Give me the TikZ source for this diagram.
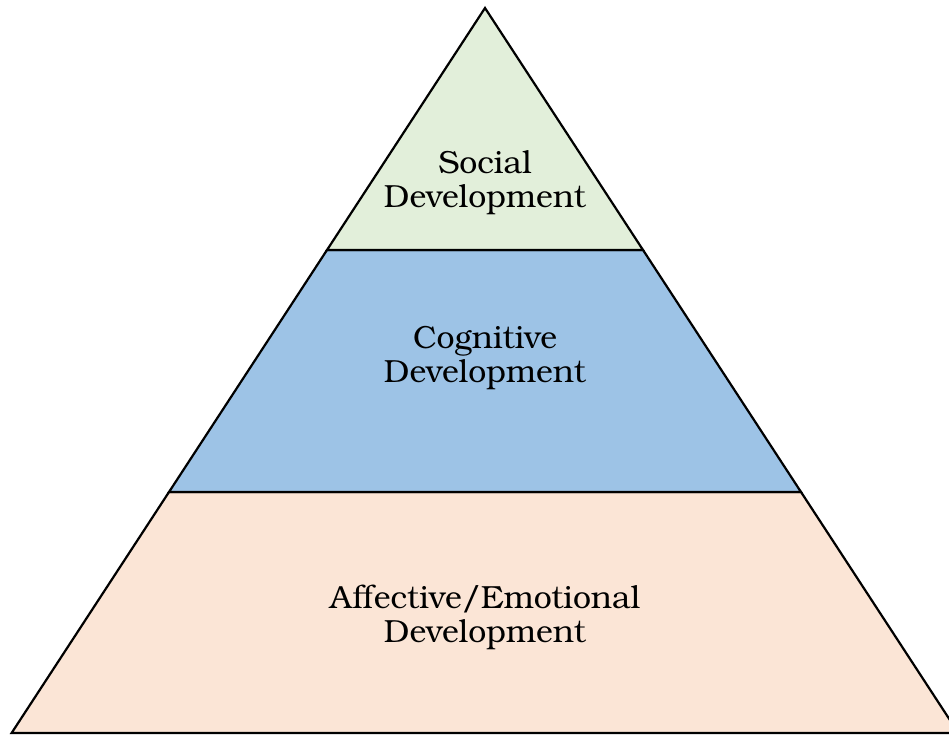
\documentclass[tikz,border=0pt]{standalone}
\usepackage{fontspec}
\setmainfont{TeX Gyre Bonum}
\definecolor{topgreen}{HTML}{E2EFDA}
\definecolor{midblue}{HTML}{9DC3E6}
\definecolor{basepeach}{HTML}{FBE5D6}
\begin{document}
\begin{tikzpicture}[x=1pt,y=1pt,
  layer/.style={draw=black,line width=2.2pt,line join=miter},
  lbl/.style={align=center,font=\fontsize{32}{34}\selectfont,inner sep=0pt}]
\useasboundingbox (0,0) rectangle (949,-735);
\clip (0,0) rectangle (949,-735);
\coordinate (apex) at (485,-8);
\coordinate (l1) at (327,-250);
\coordinate (r1) at (643,-250);
\coordinate (l2) at (169,-492);
\coordinate (r2) at (801,-492);
\coordinate (l3) at (11.6,-733);
\coordinate (r3) at (958.4,-733);
\path[layer,fill=basepeach] (l2) -- (r2) -- (r3) -- (l3) -- cycle;
\path[layer,fill=midblue] (l1) -- (r1) -- (r2) -- (l2) -- cycle;
\path[layer,fill=topgreen] (apex) -- (r1) -- (l1) -- cycle;
\node[lbl] (social) at (485,-183) {Social\\Development};
\node[lbl] (cognitive) at (485,-358) {Cognitive\\Development};
\node[lbl] (affective) at (485,-617) {Affective/Emotional\\Development};
\end{tikzpicture}
\end{document}
